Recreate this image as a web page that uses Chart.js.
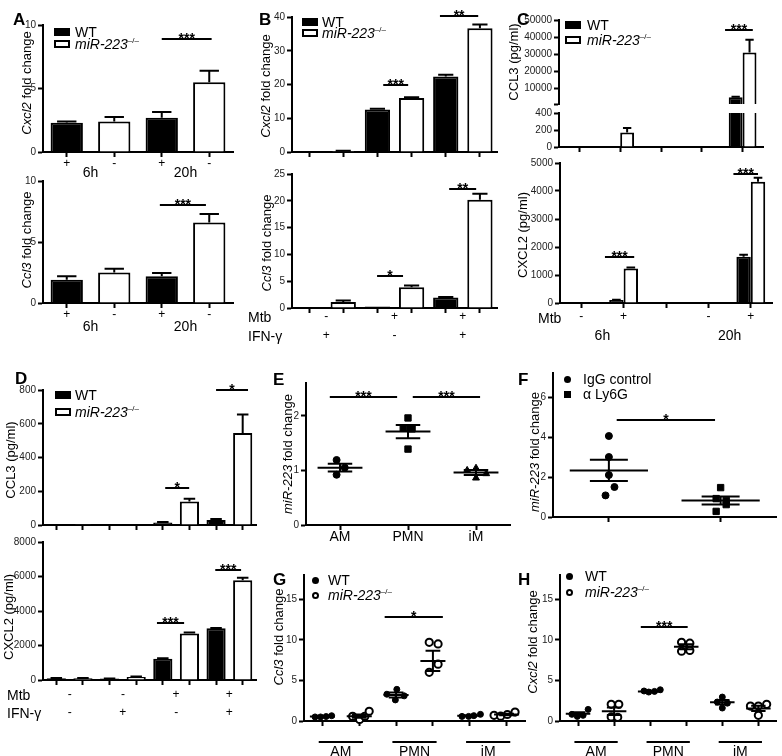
<!DOCTYPE html>
<html><head><meta charset="utf-8"><title>miR-223 chemokine figure</title>
<script src="https://cdn.jsdelivr.net/npm/chart.js@4.4.1/dist/chart.umd.min.js"></script>
<style>
html,body{margin:0;padding:0;background:#fff;}
#root{position:relative;width:782px;height:756px;overflow:hidden;font-family:"Liberation Sans",Arial,Helvetica,sans-serif;color:#000;background:#fff;}
#root canvas{position:absolute;}
.tx{position:absolute;white-space:nowrap;line-height:1;}
.pl{font-weight:bold;font-size:17px;}
.yt{font-size:13px;transform:translate(-50%,-50%) rotate(-90deg);}
.lg{font-size:14px;line-height:14px;}
.lg sup{font-size:8px;vertical-align:6px;line-height:0;}
.rt{font-size:14px;line-height:14px;}
.sw{position:absolute;box-sizing:border-box;}
</style></head>
<body><div id="root"></div>
<script>
// ---------------- DATA ----------------
// Panel A (qPCR, fold change)
const catsA = ['6h WT', '6h KO', '20h WT', '20h KO'];
const signA = ['+', '-', '+', '-'];
const timeA = ['6h', '20h'];
const a1WT = [2.3, null, 2.7, null];
const a1KO = [null, 2.4, null, 5.5];
const a1WTerr = [0.1, null, 0.45, null];
const a1KOerr = [null, 0.35, null, 0.9];
const a2WT = [1.9, null, 2.2, null];
const a2KO = [null, 2.5, null, 6.6];
const a2WTerr = [0.3, null, 0.25, null];
const a2KOerr = [null, 0.3, null, 0.7];
const aTicks = [0, 5, 10];

// Panel B
const catsB = ['c1', 'c2', 'c3', 'c4', 'c5', 'c6'];
const mtbB = ['-', '+', '+'];
const ifnB = ['+', '-', '+'];
const b1WT = [0.2, null, 12.6, null, 22.4, null];
const b1KO = [null, 0.3, null, 16.0, null, 36.7];
const b1WTerr = [0, null, 0.2, null, 0.5, null];
const b1KOerr = [null, 0.1, null, 0.2, null, 1.1];
const b1Ticks = [0, 10, 20, 30, 40];
const b2WT = [0.2, null, 0.3, null, 1.95, null];
const b2KO = [null, 1.1, null, 3.85, null, 20.2];
const b2WTerr = [0, null, 0, null, 0.1, null];
const b2KOerr = [null, 0.3, null, 0.35, null, 1.1];
const b2Ticks = [0, 5, 10, 15, 20, 25];

// Panel C (ELISA, pg/ml), 5 slots: 6h -, 6h +, gap, 20h -, 20h +
const catsC = ['6h -', '6h +', '', '20h -', '20h +'];
const mtbC = ['-', '+', '-', '+'];
const timeC = ['6h', '20h'];
const cCcl3WT = [0, 8, null, 5, 5000];
const cCcl3KO = [0, 170, null, 0, 31000];
const cCcl3WTerr = [0, 0, null, 0, 300];
const cCcl3KOerr = [0, 55, null, 0, 7500];
const cTopTicks = [1000, 10000, 20000, 30000, 40000, 50000];
const cTopTickLabels = ['', '10000', '20000', '30000', '40000', '50000'];
const cLowTicks = [0, 200, 400];
const cCxcl2WT = [0, 110, null, 0, 1650];
const cCxcl2KO = [0, 1230, null, 0, 4330];
const cCxcl2WTerr = [0, 10, null, 0, 70];
const cCxcl2KOerr = [0, 40, null, 0, 140];
const cCxcl2Ticks = [0, 1000, 2000, 3000, 4000, 5000];

// Panel D (ELISA, pg/ml)
const catsD = ['d1', 'd2', 'd3', 'd4', 'd5', 'd6', 'd7', 'd8'];
const mtbD = ['-', '-', '+', '+'];
const ifnD = ['-', '+', '-', '+'];
const d1WT = [1, null, 1, null, 15, null, 30, null];
const d1KO = [null, 1, null, 2, null, 140, null, 545];
const d1WTerr = [0, null, 0, null, 3, null, 6, null];
const d1KOerr = [null, 0, null, 0, null, 15, null, 110];
const d1Ticks = [0, 200, 400, 600, 800];
const d2WT = [100, null, 80, null, 1230, null, 3000, null];
const d2KO = [null, 100, null, 180, null, 2700, null, 5780];
const d2WTerr = [10, null, 10, null, 30, null, 20, null];
const d2KOerr = [null, 10, null, 20, null, 60, null, 150];
const d2Ticks = [0, 2000, 4000, 6000, 8000];

// Panel E (miR-223 by cell type)
const catsE = ['AM', 'PMN', 'iM'];
const eAM = [1.19, 0.92, 1.05];
const eAMjit = [-0.05, -0.05, 0.07];
const ePMN = [1.96, 1.77, 1.76, 1.39];
const ePMNjit = [0, -0.07, 0.06, 0];
const eIM = [1.04, 1.0, 0.94, 0.86];
const eIMjit = [0, -0.13, 0.15, 0];
const eMean = [1.05, 1.71, 0.96];
const eSem = [0.07, 0.12, 0.045];
const eTicks = [0, 1, 2];

// Panel F
const catsF = ['IgG control', 'α Ly6G'];
const fIgG = [4.05, 3.0, 2.1, 1.5, 1.08];
const fIgGjit = [0, 0, 0, 0.05, -0.03];
const fLy6G = [1.47, 0.92, 0.83, 0.62, 0.28];
const fLy6Gjit = [0, -0.04, 0.05, 0.05, -0.04];
const fMean = [2.33, 0.82];
const fSem = [0.53, 0.2];
const fTicks = [0, 2, 4, 6];

// Panels G, H (AM WT, AM KO, PMN WT, PMN KO, iM WT, iM KO)
const groupsGH = ['AM', 'PMN', 'iM'];
const ghTicks = [0, 5, 10, 15];
const gWT = [[0.5, 0.5, 0.55, 0.65], [3.9, 3.3, 3.1, 2.6], [0.57, 0.57, 0.66, 0.82]];
const gWTjit = [[-0.2, -0.05, 0.1, 0.25], [0.02, -0.25, 0.22, -0.02], [-0.21, -0.03, 0.11, 0.29]];
const gKO = [[0.57, 0.2, 0.57, 1.2], [9.7, 9.5, 7.0, 6.0], [0.7, 0.6, 0.8, 1.1]];
const gKOjit = [[-0.18, 0.01, 0.15, 0.27], [-0.1, 0.14, 0.14, -0.1], [-0.34, -0.16, 0.02, 0.23]];
const gMean = [0.55, 0.6, 3.2, 7.4, 0.65, 0.8];
const gSem = [0.04, 0.2, 0.3, 1.25, 0.06, 0.1];
const hWT = [[0.82, 0.57, 0.7, 1.43], [3.7, 3.57, 3.65, 3.85], [2.95, 2.34, 2.2, 1.6]];
const hWTjit = [[-0.17, -0.02, 0.14, 0.28], [-0.17, -0.04, 0.12, 0.28], [0, -0.14, 0.14, 0]];
const hKO = [[2.05, 2.05, 0.5, 0.45], [9.7, 9.6, 8.6, 8.7], [1.84, 1.84, 2.05, 0.7]];
const hKOjit = [[-0.08, 0.13, -0.08, 0.1], [-0.13, 0.1, -0.13, 0.1], [-0.22, 0, 0.23, 0]];
const hMean = [0.9, 1.2, 3.65, 9.15, 2.3, 1.55];
const hSem = [0.18, 0.45, 0.07, 0.3, 0.28, 0.33];

// ---------------- RENDERING ----------------
const FONT = '"Liberation Sans", Arial, Helvetica, sans-serif';
Chart.defaults.font.family = FONT;
Chart.defaults.color = '#222';
const root = document.getElementById('root');

const extras = {
  id: 'extras',
  afterDatasetsDraw(chart, args, o) {
    if (!o) return;
    const ctx = chart.ctx, xs = chart.scales.x, ys = chart.scales.y, a = chart.chartArea;
    const X = v => xs.getPixelForValue(v), Y = v => ys.getPixelForValue(v);
    ctx.save();
    ctx.strokeStyle = '#000'; ctx.fillStyle = '#000'; ctx.lineWidth = 2; ctx.lineCap = 'butt';
    if (o.errors) {
      ctx.save();
      ctx.beginPath(); ctx.rect(a.left, a.top - 3, a.right - a.left, a.bottom - a.top + 3); ctx.clip();
      o.errors.forEach((errs, di) => {
        if (!errs) return;
        const ds = chart.data.datasets[di], meta = chart.getDatasetMeta(di);
        meta.data.forEach((el, i) => {
          const v = ds.data[i], e = errs[i];
          if (v == null || !e) return;
          const y0 = Y(v), y1 = Y(v + e), hw = el.width * 0.3;
          ctx.beginPath();
          ctx.moveTo(el.x, y0); ctx.lineTo(el.x, y1);
          ctx.moveTo(el.x - hw, y1); ctx.lineTo(el.x + hw, y1);
          ctx.stroke();
        });
      });
      ctx.restore();
    }
    if (o.stats) {
      const st = o.stats, unit = X(1) - X(0);
      st.mean.forEach((m, i) => {
        const s = st.sem[i], x = X(i), hw = st.hw * unit, cw = st.cw * unit;
        const ym = Y(m), yh = Y(m + s), yl = Y(m - s);
        ctx.beginPath();
        ctx.moveTo(x - hw, ym); ctx.lineTo(x + hw, ym);
        ctx.moveTo(x - cw, yh); ctx.lineTo(x + cw, yh);
        ctx.moveTo(x - cw, yl); ctx.lineTo(x + cw, yl);
        ctx.moveTo(x, yh); ctx.lineTo(x, yl);
        ctx.stroke();
      });
    }
    (o.sig || []).forEach(s => {
      const y = Math.round(Y(s.y)), x1 = X(s.x1), x2 = X(s.x2);
      ctx.beginPath(); ctx.moveTo(x1, y); ctx.lineTo(x2, y); ctx.stroke();
      ctx.font = 'bold 14px ' + FONT; ctx.textAlign = 'center'; ctx.textBaseline = 'alphabetic';
      ctx.fillText(s.text, (x1 + x2) / 2, y + 4);
    });
    (o.under || []).forEach(u => {
      const y = a.bottom + u.dy;
      ctx.beginPath(); ctx.moveTo(X(u.x1), y); ctx.lineTo(X(u.x2), y); ctx.stroke();
    });
    (o.rows || []).forEach(r => {
      ctx.font = r.font + ' ' + FONT; ctx.textAlign = 'center'; ctx.textBaseline = 'middle';
      ctx.fillStyle = '#000';
      r.items.forEach(([x, t]) => ctx.fillText(t, X(x), a.bottom + r.dy));
    });
    ctx.restore();
  }
};

function place(rect, pad) {
  const [l, t, r, b] = rect;
  const c = document.createElement('canvas');
  const W = Math.round(r - l) + pad.l + pad.r, H = Math.round(b - t) + pad.t + pad.b;
  c.width = W; c.height = H;
  c.style.left = Math.round(l - pad.l) + 'px'; c.style.top = Math.round(t - pad.t) + 'px';
  c.style.width = W + 'px'; c.style.height = H + 'px';
  root.appendChild(c);
  return c;
}
const gridOpts = { display: true, offset: false, drawOnChartArea: false, drawTicks: true, tickLength: 5, tickWidth: 2, tickColor: '#000' };
const borderOpts = { display: true, color: '#000', width: 2 };
function yScale(y, padL) {
  return {
    type: 'linear', min: y.min, max: y.max,
    afterBuildTicks: s => { s.ticks = y.ticks.map(v => ({ value: v })); },
    ticks: { font: { size: 10 }, color: '#222', padding: 2, callback: (v, i) => (y.labels ? y.labels[i] : String(v)) },
    grid: gridOpts, border: borderOpts,
    afterFit: s => { s.width = padL; }
  };
}
function xCat(padB, show) {
  return {
    type: 'category', offset: true, display: show,
    ticks: { display: false }, grid: gridOpts, border: borderOpts,
    afterFit: s => { s.height = show ? padB : 0; }
  };
}
function xLin(n, padB) {
  return {
    type: 'linear', min: -0.5, max: n - 0.5,
    afterBuildTicks: s => { s.ticks = Array.from({ length: n }, (_, i) => ({ value: i })); },
    ticks: { display: false }, grid: gridOpts, border: borderOpts,
    afterFit: s => { s.height = padB; }
  };
}
function baseOpts(pad, showX, extrasCfg) {
  return {
    responsive: false, animation: false, devicePixelRatio: 1,
    layout: { padding: { top: pad.t, right: pad.r, left: 0, bottom: showX ? 0 : pad.b } },
    plugins: { legend: { display: false }, tooltip: { enabled: false }, title: { display: false }, extras: extrasCfg },
    events: []
  };
}
function barChart(cfg) {
  const pad = Object.assign({ l: 40, t: 14, r: 8, b: 30 }, cfg.pad || {});
  const cv = place(cfg.rect, pad);
  const showX = cfg.showX !== false;
  const datasets = cfg.series.map(s => ({
    label: s.label, data: s.data, backgroundColor: s.fill, borderColor: '#000', borderWidth: 2,
    barPercentage: cfg.bp, categoryPercentage: cfg.cp, skipNull: true, clip: 0
  }));
  const options = baseOpts(pad, showX, cfg.extras);
  options.scales = { x: xCat(pad.b, showX), y: yScale(cfg.y, pad.l) };
  new Chart(cv, { type: 'bar', data: { labels: cfg.labels, datasets }, options, plugins: [extras] });
}
function pts(base, step, vals, jit) {
  const out = [];
  vals.forEach((grp, g) => grp.forEach((v, k) => out.push({ x: base + g * step + jit[g][k], y: v })));
  return out;
}
function dotChart(cfg) {
  const pad = Object.assign({ l: 40, t: 14, r: 8, b: 30 }, cfg.pad || {});
  const cv = place(cfg.rect, pad);
  const datasets = cfg.series.map(s => ({
    label: s.label, data: s.points, pointStyle: s.style, pointRadius: s.r, pointHoverRadius: s.r,
    backgroundColor: s.fill, borderColor: '#000', borderWidth: s.bw, clip: false, showLine: false
  }));
  const options = baseOpts(pad, true, cfg.extras);
  options.scales = { x: xLin(cfg.n, pad.b), y: yScale(cfg.y, pad.l) };
  new Chart(cv, { type: 'scatter', data: { datasets }, options, plugins: [extras] });
}

// ---- A ----
const rowsA = [{ dy: 12, font: '12px', items: signA.map((t, i) => [i, t]) },
               { dy: 21, font: '14px', items: timeA.map((t, i) => [i * 2 + 0.5, t]) }];
barChart({ rect: [43, 25, 233, 152], labels: catsA, bp: 0.68, cp: 1,
  series: [{ label: 'WT', data: a1WT, fill: '#000' }, { label: 'miR-223-/-', data: a1KO, fill: '#fff' }],
  y: { min: 0, max: 10, ticks: aTicks },
  extras: { errors: [a1WTerr, a1KOerr], sig: [{ x1: 2.0, x2: 3.05, y: 8.9, text: '***' }], rows: rowsA } });
barChart({ rect: [43, 181, 233, 303], labels: catsA, bp: 0.68, cp: 1, pad: { b: 32 },
  series: [{ label: 'WT', data: a2WT, fill: '#000' }, { label: 'miR-223-/-', data: a2KO, fill: '#fff' }],
  y: { min: 0, max: 10, ticks: aTicks },
  extras: { errors: [a2WTerr, a2KOerr], sig: [{ x1: 1.96, x2: 2.93, y: 8.0, text: '***' }],
    rows: [{ dy: 12, font: '12px', items: signA.map((t, i) => [i, t]) },
           { dy: 24, font: '14px', items: timeA.map((t, i) => [i * 2 + 0.5, t]) }] } });

// ---- B ----
barChart({ rect: [292, 16.7, 497, 151.7], labels: catsB, bp: 0.74, cp: 1, pad: { b: 10 },
  series: [{ label: 'WT', data: b1WT, fill: '#000' }, { label: 'miR-223-/-', data: b1KO, fill: '#fff' }],
  y: { min: 0, max: 40, ticks: b1Ticks },
  extras: { errors: [b1WTerr, b1KOerr], sig: [{ x1: 2.17, x2: 2.9, y: 20.0, text: '***' }, { x1: 3.83, x2: 4.95, y: 40.2, text: '**' }] } });
barChart({ rect: [292, 173.5, 497, 307.7], labels: catsB, bp: 0.74, cp: 1, pad: { b: 36 },
  series: [{ label: 'WT', data: b2WT, fill: '#000' }, { label: 'miR-223-/-', data: b2KO, fill: '#fff' }],
  y: { min: 0, max: 25, ticks: b2Ticks },
  extras: { errors: [b2WTerr, b2KOerr], sig: [{ x1: 1.99, x2: 2.75, y: 5.9, text: '*' }, { x1: 4.1, x2: 4.89, y: 22.2, text: '**' }],
    rows: [{ dy: 9, font: '12px', items: mtbB.map((t, i) => [i * 2 + 0.5, t]) },
           { dy: 28, font: '12px', items: ifnB.map((t, i) => [i * 2 + 0.5, t]) }] } });

// ---- C ----
barChart({ rect: [559, 20, 763, 103.6], labels: catsC, bp: 1, cp: 0.68, showX: false, pad: { b: 8 },
  series: [{ label: 'WT', data: cCcl3WT, fill: '#000' }, { label: 'miR-223-/-', data: cCcl3KO, fill: '#fff' }],
  y: { min: 1000, max: 50000, ticks: cTopTicks, labels: cTopTickLabels },
  extras: { errors: [cCcl3WTerr, cCcl3KOerr], sig: [{ x1: 3.57, x2: 4.25, y: 44100, text: '***' }] } });
barChart({ rect: [559, 113.3, 763, 147.7], labels: catsC, bp: 1, cp: 0.68, pad: { t: 8, b: 8 },
  series: [{ label: 'WT', data: cCcl3WT, fill: '#000' }, { label: 'miR-223-/-', data: cCcl3KO, fill: '#fff' }],
  y: { min: 0, max: 400, ticks: cLowTicks },
  extras: { errors: [cCcl3WTerr, cCcl3KOerr] } });
barChart({ rect: [560, 163.3, 772, 303.3], labels: catsC, bp: 1, cp: 0.68, pad: { b: 42 },
  series: [{ label: 'WT', data: cCxcl2WT, fill: '#000' }, { label: 'miR-223-/-', data: cCxcl2KO, fill: '#fff' }],
  y: { min: 0, max: 5000, ticks: cCxcl2Ticks },
  extras: { errors: [cCxcl2WTerr, cCxcl2KOerr],
    sig: [{ x1: 0.56, x2: 1.25, y: 1630, text: '***' }, { x1: 3.59, x2: 4.17, y: 4620, text: '***' }],
    rows: [{ dy: 14, font: '12px', items: mtbC.map((t, i) => [[0, 1, 3, 4][i], t]) },
           { dy: 33, font: '14px', items: timeC.map((t, i) => [i * 3 + 0.5, t]) }] } });

// ---- D ----
barChart({ rect: [43, 390.2, 256, 525], labels: catsD, bp: 0.72, cp: 1, pad: { b: 10 },
  series: [{ label: 'WT', data: d1WT, fill: '#000' }, { label: 'miR-223-/-', data: d1KO, fill: '#fff' }],
  y: { min: 0, max: 800, ticks: d1Ticks },
  extras: { errors: [d1WTerr, d1KOerr], sig: [{ x1: 4.09, x2: 4.99, y: 218, text: '*' }, { x1: 6.0, x2: 7.2, y: 800, text: '*' }] } });
barChart({ rect: [43, 541.7, 256, 680], labels: catsD, bp: 0.72, cp: 1, pad: { b: 42 },
  series: [{ label: 'WT', data: d2WT, fill: '#000' }, { label: 'miR-223-/-', data: d2KO, fill: '#fff' }],
  y: { min: 0, max: 8000, ticks: d2Ticks },
  extras: { errors: [d2WTerr, d2KOerr],
    sig: [{ x1: 3.78, x2: 4.8, y: 3280, text: '***' }, { x1: 5.97, x2: 6.94, y: 6400, text: '***' }],
    rows: [{ dy: 15, font: '12px', items: mtbD.map((t, i) => [i * 2 + 0.5, t]) },
           { dy: 33, font: '12px', items: ifnD.map((t, i) => [i * 2 + 0.5, t]) }] } });

// ---- E ----
dotChart({ rect: [306, 382.8, 510, 525], n: 3, pad: { b: 22 },
  series: [
    { label: 'AM', points: pts(0, 1, [eAM], [eAMjit]), style: 'circle', r: 3.5, fill: '#000', bw: 1 },
    { label: 'PMN', points: pts(1, 1, [ePMN], [ePMNjit]), style: 'rect', r: 4.5, fill: '#000', bw: 1 },
    { label: 'iM', points: pts(2, 1, [eIM], [eIMjit]), style: 'triangle', r: 4, fill: '#000', bw: 1 }],
  y: { min: 0, max: 2.6, ticks: eTicks },
  extras: { stats: { mean: eMean, sem: eSem, hw: 0.33, cw: 0.18 },
    sig: [{ x1: -0.15, x2: 0.84, y: 2.34, text: '***' }, { x1: 1.07, x2: 2.06, y: 2.34, text: '***' }],
    rows: [{ dy: 12, font: '14px', items: catsE.map((t, i) => [i, t]) }] } });

// ---- F ----
dotChart({ rect: [553, 372.7, 780, 516.7], n: 2, pad: { r: 2, b: 10 },
  series: [
    { label: catsF[0], points: pts(0, 1, [fIgG], [fIgGjit]), style: 'circle', r: 3.5, fill: '#000', bw: 1 },
    { label: catsF[1], points: pts(1, 1, [fLy6G], [fLy6Gjit]), style: 'rect', r: 4.5, fill: '#000', bw: 1 }],
  y: { min: 0, max: 7.2, ticks: fTicks },
  extras: { stats: { mean: fMean, sem: fSem, hw: 0.35, cw: 0.17 },
    sig: [{ x1: 0.07, x2: 0.95, y: 4.83, text: '*' }] } });

// ---- G, H ----
function ghRows() {
  return {
    under: groupsGH.map((g, i) => ({ x1: i * 2 - 0.1, x2: i * 2 + 1.1, dy: 21 })),
    rows: [{ dy: 31, font: '14px', items: groupsGH.map((g, i) => [i * 2 + 0.5, g]) }]
  };
}
dotChart({ rect: [304, 574.5, 525, 720.7], n: 6, pad: { b: 36 },
  series: [
    { label: 'WT', points: pts(0, 2, gWT, gWTjit), style: 'circle', r: 3, fill: '#000', bw: 1 },
    { label: 'miR-223-/-', points: pts(1, 2, gKO, gKOjit), style: 'circle', r: 3.6, fill: '#fff', bw: 2 }],
  y: { min: 0, max: 18, ticks: ghTicks },
  extras: Object.assign({ stats: { mean: gMean, sem: gSem, hw: 0.34, cw: 0.2 },
    sig: [{ x1: 1.69, x2: 3.27, y: 12.8, text: '*' }] }, ghRows()) });
dotChart({ rect: [560, 574.5, 780, 720.7], n: 6, pad: { r: 2, b: 36 },
  series: [
    { label: 'WT', points: pts(0, 2, hWT, hWTjit), style: 'circle', r: 3, fill: '#000', bw: 1 },
    { label: 'miR-223-/-', points: pts(1, 2, hKO, hKOjit), style: 'circle', r: 3.6, fill: '#fff', bw: 2 }],
  y: { min: 0, max: 18, ticks: ghTicks },
  extras: Object.assign({ stats: { mean: hMean, sem: hSem, hw: 0.34, cw: 0.2 },
    sig: [{ x1: 1.74, x2: 3.04, y: 11.6, text: '***' }] }, ghRows()) });

// ---------------- HTML TEXT ----------------
function txt(html, cls, left, top) {
  const d = document.createElement('div');
  d.className = 'tx ' + cls; d.innerHTML = html;
  d.style.left = left + 'px'; d.style.top = top + 'px';
  root.appendChild(d);
}
function sw(kind, x, cy) {
  const d = document.createElement('div'); d.className = 'sw';
  const st = d.style;
  if (kind === 'fill' || kind === 'open') {
    st.left = x + 'px'; st.top = (cy - 4) + 'px'; st.width = '16px'; st.height = '8px';
    st.background = kind === 'fill' ? '#000' : '#fff'; if (kind === 'open') st.border = '2px solid #000';
  } else if (kind === 'dot' || kind === 'ring') {
    st.left = (x - 3.5) + 'px'; st.top = (cy - 3.5) + 'px'; st.width = '7px'; st.height = '7px'; st.borderRadius = '50%';
    st.background = kind === 'dot' ? '#000' : '#fff'; if (kind === 'ring') st.border = '2px solid #000';
  } else if (kind === 'sq') {
    st.left = (x - 3.5) + 'px'; st.top = (cy - 3.5) + 'px'; st.width = '7px'; st.height = '7px'; st.background = '#000';
  }
  root.appendChild(d);
}
const KO = '<i>miR-223</i><sup>–/–</sup>';
function legend(kinds, labels, x, tx, cys) {
  kinds.forEach((k, i) => { sw(k, x, cys[i]); txt(labels[i], 'lg', tx, cys[i] - 7); });
}
legend(['fill', 'open'], ['WT', KO], 54, 75, [32, 44]);
legend(['fill', 'open'], ['WT', KO], 302, 322, [22, 33]);
legend(['fill', 'open'], ['WT', KO], 565, 587, [25, 40]);
legend(['fill', 'open'], ['WT', KO], 55, 75, [395, 412]);
legend(['dot', 'sq'], ['IgG control', 'α Ly6G'], 567, 583, [379, 394]);
legend(['dot', 'ring'], ['WT', KO], 315, 328, [580, 595]);
legend(['dot', 'ring'], ['WT', KO], 569, 585, [576, 592]);

// panel letters
[['A', 13, 11], ['B', 259, 11], ['C', 517, 11], ['D', 15, 370], ['E', 273, 371], ['F', 518, 371], ['G', 273, 571], ['H', 518, 571]]
  .forEach(([t, x, y]) => txt(t, 'pl', x, y));

// axis titles
[['<i>Cxcl2</i> fold change', 26, 83], ['<i>Ccl3</i> fold change', 26, 240],
 ['<i>Cxcl2</i> fold change', 265, 86], ['<i>Ccl3</i> fold change', 266, 243],
 ['CCL3 (pg/ml)', 513, 62], ['CXCL2 (pg/ml)', 522, 235],
 ['CCL3 (pg/ml)', 10, 460], ['CXCL2 (pg/ml)', 8, 617],
 ['<i>miR-223</i> fold change', 287, 454], ['<i>miR-223</i> fold change', 534, 452],
 ['<i>Ccl3</i> fold change', 278, 637], ['<i>Cxcl2</i> fold change', 532, 642]]
  .forEach(([t, x, y]) => txt(t, 'yt', x, y));

// row titles
[['Mtb', 248, 310], ['IFN-γ', 248, 329], ['Mtb', 538, 311], ['Mtb', 7, 688], ['IFN-γ', 7, 706]]
  .forEach(([t, x, y]) => txt(t, 'rt', x, y));
</script></body></html>
